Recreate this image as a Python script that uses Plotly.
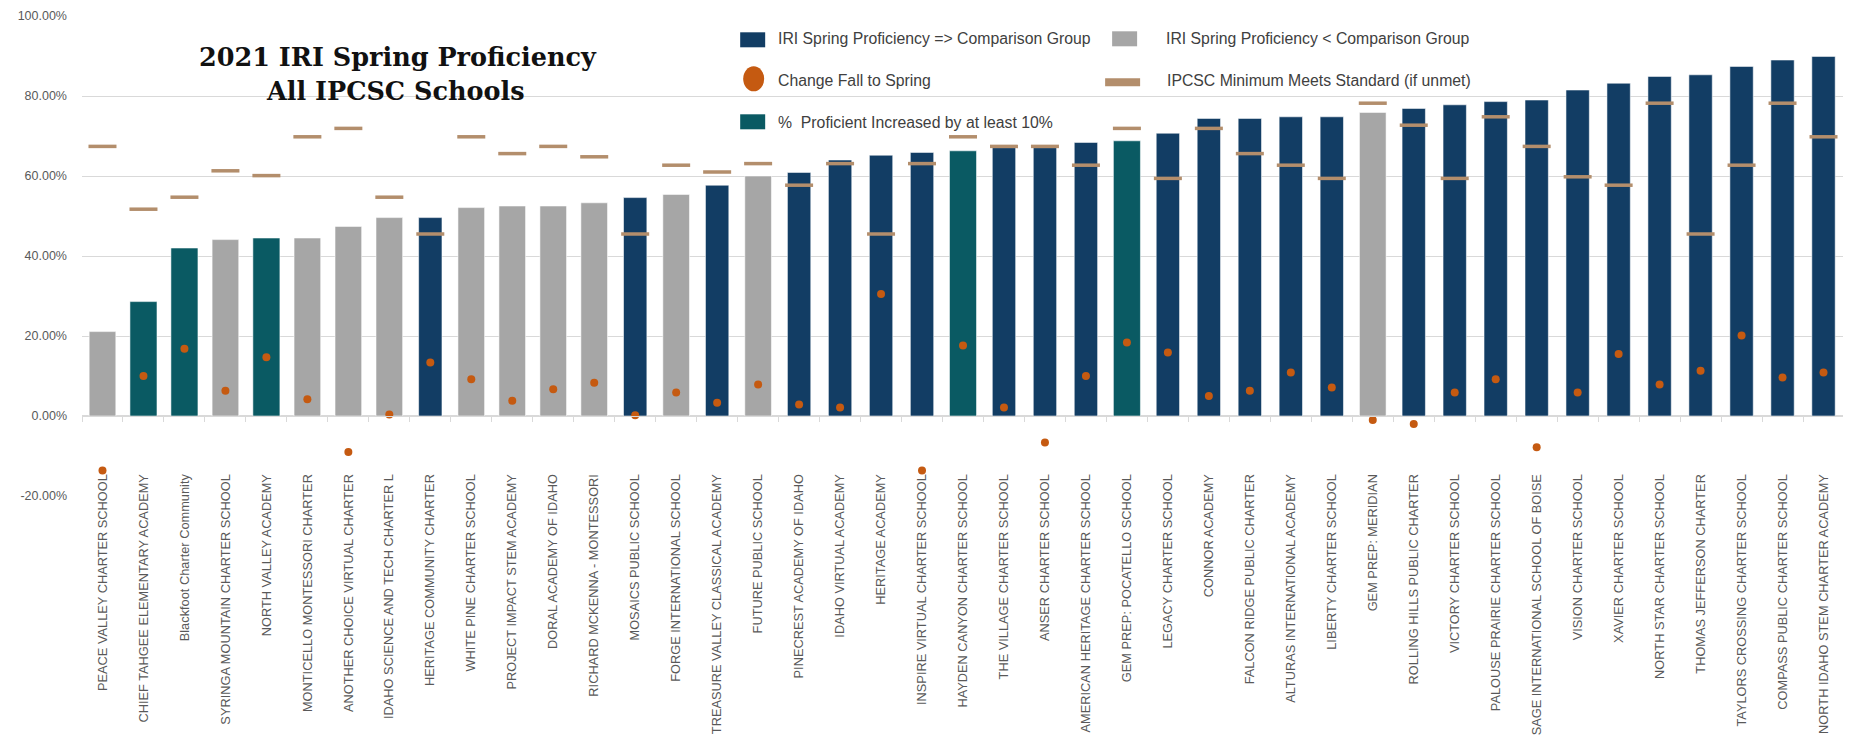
import plotly.graph_objects as go

schools = [
    "PEACE VALLEY CHARTER SCHOOL", "CHIEF TAHGEE ELEMENTARY ACADEMY", "Blackfoot Charter Community",
    "SYRINGA MOUNTAIN CHARTER SCHOOL", "NORTH VALLEY ACADEMY", "MONTICELLO MONTESSORI CHARTER",
    "ANOTHER CHOICE VIRTUAL CHARTER", "IDAHO SCIENCE AND TECH CHARTER L", "HERITAGE COMMUNITY CHARTER",
    "WHITE PINE CHARTER SCHOOL", "PROJECT IMPACT STEM ACADEMY", "DORAL ACADEMY OF IDAHO",
    "RICHARD MCKENNA - MONTESSORI", "MOSAICS PUBLIC SCHOOL", "FORGE INTERNATIONAL SCHOOL",
    "TREASURE VALLEY CLASSICAL ACADEMY", "FUTURE PUBLIC SCHOOL", "PINECREST ACADEMY OF IDAHO",
    "IDAHO VIRTUAL ACADEMY", "HERITAGE ACADEMY", "INSPIRE VIRTUAL CHARTER SCHOOL",
    "HAYDEN CANYON CHARTER SCHOOL", "THE VILLAGE CHARTER SCHOOL", "ANSER CHARTER SCHOOL",
    "AMERICAN HERITAGE CHARTER SCHOOL", "GEM PREP: POCATELLO SCHOOL", "LEGACY CHARTER SCHOOL",
    "CONNOR ACADEMY", "FALCON RIDGE PUBLIC CHARTER", "ALTURAS INTERNATIONAL ACADEMY",
    "LIBERTY CHARTER SCHOOL", "GEM PREP: MERIDIAN", "ROLLING HILLS PUBLIC CHARTER",
    "VICTORY CHARTER SCHOOL", "PALOUSE PRAIRIE CHARTER SCHOOL", "SAGE INTERNATIONAL SCHOOL OF BOISE",
    "VISION CHARTER SCHOOL", "XAVIER CHARTER SCHOOL", "NORTH STAR CHARTER SCHOOL",
    "THOMAS JEFFERSON CHARTER", "TAYLORS CROSSING CHARTER SCHOOL", "COMPASS PUBLIC CHARTER SCHOOL",
    "NORTH IDAHO STEM CHARTER ACADEMY",
]

# IRI spring proficiency (%)
spring = [21.1, 28.6, 42.0, 44.1, 44.5, 44.5, 47.4, 49.6, 49.6, 52.1, 52.5, 52.5, 53.3, 54.6,
          55.4, 57.7, 60.0, 60.9, 64.0, 65.2, 65.9, 66.3, 67.1, 67.1, 68.4, 68.8, 70.7, 74.4,
          74.4, 74.8, 74.8, 75.9, 76.9, 77.8, 78.6, 79.0, 81.5, 83.2, 84.9, 85.3, 87.4, 89.0, 89.9]

# Change fall to spring (percentage points)
change = [-13.6, 10.0, 16.8, 6.3, 14.7, 4.2, -9.0, 0.4, 13.4, 9.2, 3.8, 6.7, 8.3, 0.2,
          5.9, 3.3, 7.9, 2.9, 2.1, 30.5, -13.6, 17.6, 2.1, -6.6, 10.0, 18.4, 15.9, 5.0,
          6.3, 10.9, 7.1, -1.0, -2.0, 5.9, 9.2, -7.8, 5.9, 15.5, 7.9, 11.3, 20.1, 9.6, 10.9]

# IPCSC minimum meets standard (%)
standard = [67.4, 51.7, 54.7, 61.3, 60.1, 69.8, 71.9, 54.7, 45.5, 69.8, 65.6, 67.4, 64.8, 45.5,
            62.7, 61.0, 63.1, 57.7, 63.1, 45.5, 63.1, 69.8, 67.4, 67.4, 62.7, 71.9, 59.4, 71.9,
            65.6, 62.7, 59.4, 78.2, 72.7, 59.4, 74.8, 67.4, 59.8, 57.7, 78.2, 45.5, 62.7, 78.2, 69.8]

# group: "meets" => comparison group, "below" < comparison group, "up10" increased by >= 10%
group = ["below", "up10", "up10", "below", "up10", "below", "below", "below", "meets", "below",
         "below", "below", "below", "meets", "below", "meets", "below", "meets", "meets", "meets",
         "meets", "up10", "meets", "meets", "meets", "up10", "meets", "meets", "meets", "meets",
         "meets", "below", "meets", "meets", "meets", "meets", "meets", "meets", "meets", "meets",
         "meets", "meets", "meets"]

y_ticks = [-20, 0, 20, 40, 60, 80, 100]
y_tick_text = [f"{v:.2f}%" for v in y_ticks]

NAVY = "#123D64"
GRAY = "#A6A6A6"
TEAL = "#0A5A63"
ORANGE = "#C55A11"
TAN = "#B38E6C"
GRID = "#D9D9D9"
TXT = "#595959"

OFF = 8  # default page body margin
W, H = 1851 - OFF, 746 - OFF
L, R, T, B = 81.7 - OFF, 1844.0 - OFF, 15.7 - OFF, 495.7 - OFF
YMIN, YMAX = -20, 100


def px_x(p):
    return (p - OFF - L) / (R - L)


def px_y(p):
    return (B - (p - OFF)) / (B - T)


fig = go.Figure()

styles = {"meets": (NAVY, 0.57), "below": (GRAY, 0.65), "up10": (TEAL, 0.66)}
for g in ["meets", "below", "up10"]:
    col, wd = styles[g]
    xs = [s for s, gg in zip(schools, group) if gg == g]
    ys = [v for v, gg in zip(spring, group) if gg == g]
    fig.add_trace(go.Bar(x=xs, y=ys, width=wd,
                         marker=dict(color=col, line=dict(color="rgba(255,255,255,0.55)", width=1)),
                         showlegend=False, hoverinfo="x+y"))

fig.add_trace(go.Scatter(x=schools, y=standard, mode="markers",
                         marker=dict(symbol="line-ew", size=20, line=dict(color=TAN, width=3.5)),
                         showlegend=False))
fig.add_trace(go.Scatter(x=schools, y=change, mode="markers",
                         marker=dict(symbol="circle", size=8, color=ORANGE, line=dict(width=0)),
                         showlegend=False))

zero_pos = (0 - YMIN) / (YMAX - YMIN)

fig.update_layout(
    width=W, height=H,
    margin=dict(l=L, r=W - R, t=T, b=H - B, pad=0),
    plot_bgcolor="white", paper_bgcolor="white",
    barmode="overlay",
    font=dict(family="Liberation Sans", color=TXT),
    xaxis=dict(type="category", categoryorder="array", categoryarray=schools,
               anchor="free", position=zero_pos, showline=True, linecolor=GRID, linewidth=1,
               ticks="outside", tickson="boundaries", ticklen=5, tickcolor=GRID,
               tickangle=-90, tickfont=dict(family="Liberation Sans", size=12.8, color=TXT),
               ticklabelstandoff=52, showgrid=False, automargin=False,
               range=[-0.5, len(schools) - 0.5]),
    yaxis=dict(range=[YMIN, YMAX], tickvals=y_ticks, ticktext=y_tick_text,
               showgrid=True, gridcolor=GRID, gridwidth=1, zeroline=True, zerolinecolor=GRID,
               tickfont=dict(family="Liberation Sans", size=12.5, color=TXT),
               ticklabelstandoff=14, automargin=False, showline=False),
)

# Title
TITLE_FONT = dict(family="DejaVu Serif", size=25.5, color="#111111")
fig.add_annotation(x=px_x(398), y=px_y(57), xref="paper", yref="paper",
                   text="<b>2021 IRI Spring Proficiency</b>", showarrow=False, font=TITLE_FONT,
                   xanchor="center", yanchor="middle")
fig.add_annotation(x=px_x(395), y=px_y(91), xref="paper", yref="paper",
                   text="<b>All IPCSC Schools</b>", showarrow=False, font=TITLE_FONT,
                   xanchor="center", yanchor="middle")

# Custom legend
LEG_FONT = dict(family="Liberation Sans", size=15.8, color="#404040")


def key_shape(x0, y0, x1, y1, color, kind="rect"):
    fig.add_shape(type=kind, xref="paper", yref="paper", x0=px_x(x0), x1=px_x(x1),
                  y0=px_y(y1), y1=px_y(y0), fillcolor=color, line=dict(width=0), layer="above")


def key_text(x, y, txt):
    fig.add_annotation(x=px_x(x), y=px_y(y), xref="paper", yref="paper", text=txt, showarrow=False,
                       xanchor="left", yanchor="middle", font=LEG_FONT)


key_shape(740, 32, 765, 47, NAVY)
key_text(776, 38, "IRI Spring Proficiency =&gt; Comparison Group")
key_shape(1112, 31, 1137, 46, GRAY)
key_text(1164, 38, "IRI Spring Proficiency &lt; Comparison Group")
key_shape(743, 66, 764, 91, ORANGE, kind="circle")
key_text(776, 80, "Change Fall to Spring")
key_shape(1105, 78, 1140, 86, TAN)
key_text(1165, 80, "IPCSC Minimum Meets Standard (if unmet)")
key_shape(740, 114, 765, 129, TEAL)
key_text(776, 122, "%  Proficient Increased by at least 10%")

fig.write_html("out.html")
